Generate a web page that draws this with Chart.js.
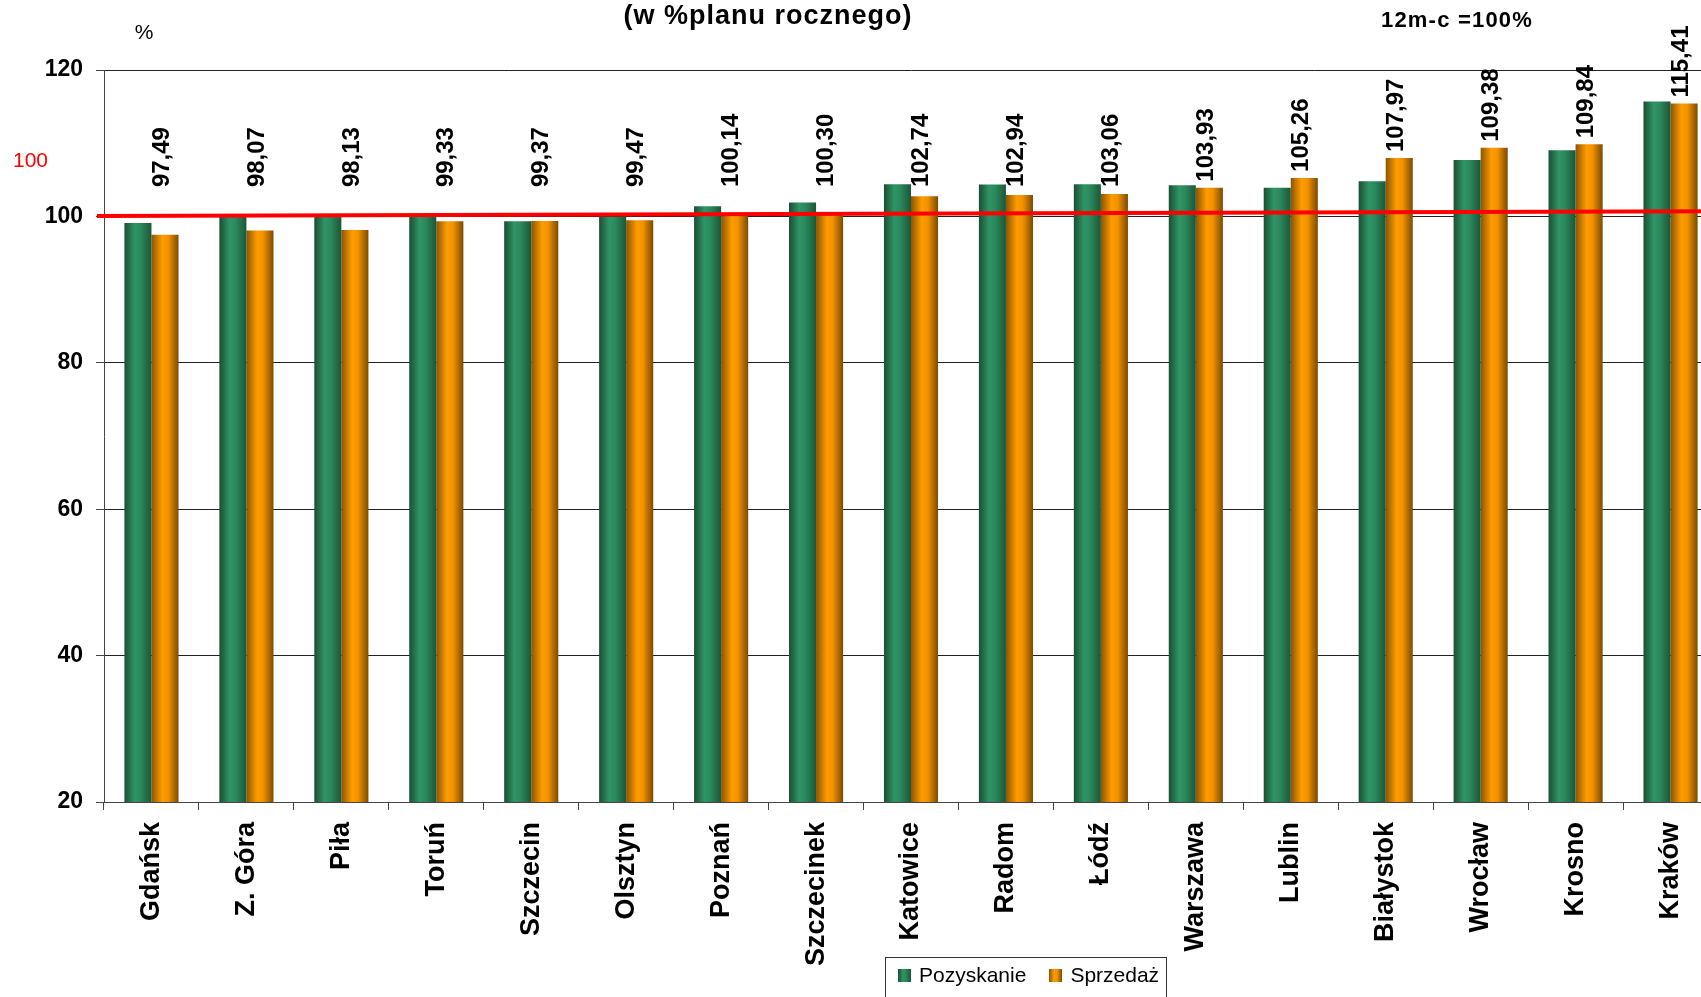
<!DOCTYPE html>
<html>
<head>
<meta charset="utf-8">
<script src="https://cdn.jsdelivr.net/npm/chart.js@4.4.1/dist/chart.umd.min.js"></script>
<style>
  html, body { margin: 0; padding: 0; background: #fff; overflow: hidden; }
  #wrap { position: relative; width: 1701px; height: 997px; overflow: hidden; }
  #chart { display: block; }
  #legend {
    position: absolute; left: 885px; top: 957px; width: 282px; height: 50px;
    box-sizing: border-box; border: 1px solid #333; padding-left: 12px;
    display: flex; align-items: flex-start;
    font: 21px "Liberation Sans", Arial, sans-serif; color: #000; white-space: nowrap;
  }
  #legend .item { display: flex; align-items: center; height: 34px; margin-right: 23px; }
  #legend i { display: inline-block; width: 13px; height: 13px; margin-right: 8px; }
</style>
</head>
<body>
<div id="wrap">
  <!-- the plot runs a little past the right edge of the picture, as in the original -->
  <canvas id="chart" width="1718" height="997"></canvas>
  <div id="legend"></div>
</div>
<script>
// -------------------------------
// DATA
// -------------------------------
const categories = ["Gdańsk", "Z. Góra", "Piła", "Toruń", "Szczecin", "Olsztyn", "Poznań", "Szczecinek",
    "Katowice", "Radom", "Łódź", "Warszawa", "Lublin", "Białystok", "Wrocław", "Krosno", "Kraków"];
const pozyskanie = [99.1, 100.0, 100.0, 100.05, 99.35, 99.95, 101.4, 101.9,
    104.4, 104.35, 104.4, 104.25, 103.9, 104.8, 107.7, 109.05, 115.7];
const sprzedaz = [97.49, 98.07, 98.13, 99.33, 99.37, 99.47, 100.14, 100.30,
    102.74, 102.94, 103.06, 103.93, 105.26, 107.97, 109.38, 109.84, 115.41];
const seriesNames = ["Pozyskanie", "Sprzedaż"];
const yTicks = [20, 40, 60, 80, 100, 120];
const redLine = [100.05, 100.7];   // plan line, left end / right end

const titleText = "(w %planu rocznego)";
const noteText = "12m-c =100%";
const unitText = "%";
const redLabel = "100";

// -------------------------------
// STYLES
// -------------------------------
const FONT = '"Liberation Sans", Arial, sans-serif';
const greenStops = [[0, "#1b4e33"], [0.38, "#2f9566"], [0.6, "#2b895c"], [1, "#1c5638"]];
const orangeStops = [[0, "#8a5600"], [0.4, "#ff9c00"], [0.62, "#f29200"], [1, "#7a4b00"]];

const fmt = v => v.toFixed(2).replace(".", ",");

// -------------------------------
// PLUGINS
// -------------------------------
const barGradients = {
    id: "barGradients",
    beforeDatasetsDraw(chart) {
        const c = chart.ctx;
        chart.data.datasets.forEach((ds, i) => {
            chart.getDatasetMeta(i).data.forEach(bar => {
                const g = c.createLinearGradient(bar.x - bar.width / 2, 0, bar.x + bar.width / 2, 0);
                ds.stops.forEach(s => g.addColorStop(s[0], s[1]));
                bar.options.backgroundColor = g;
            });
        });
    }
};

const planLine = {
    id: "planLine",
    afterDatasetsDraw(chart) {
        const c = chart.ctx;
        const y = chart.scales.y;
        const area = chart.chartArea;
        c.save();
        c.strokeStyle = "#ff0000";
        c.lineWidth = 4;
        c.beginPath();
        c.moveTo(area.left - 7, y.getPixelForValue(redLine[0]));
        c.lineTo(chart.width, y.getPixelForValue(redLine[1]));
        c.stroke();

        // value labels over the Sprzedaż bars
        c.fillStyle = "#000";
        c.font = "bold 24px " + FONT;
        c.textAlign = "left";
        c.textBaseline = "middle";
        const cap = y.getPixelForValue(104);
        chart.getDatasetMeta(1).data.forEach((bar, i) => {
            const base = Math.min(bar.y - 6, cap);
            c.save();
            c.translate(bar.x - 3, base);
            c.rotate(-Math.PI / 2);
            c.fillText(fmt(sprzedaz[i]), 0, 0);
            c.restore();
        });
        c.restore();
    }
};

const notes = {
    id: "notes",
    afterDraw(chart) {
        const c = chart.ctx;
        c.save();
        c.fillStyle = "#000";
        c.textBaseline = "middle";
        c.textAlign = "center";
        c.font = "bold 27px " + FONT;
        c.letterSpacing = "1px";
        c.fillText(titleText, 768, 16.5);
        c.font = "bold 22px " + FONT;
        c.letterSpacing = "1.2px";
        c.fillText(noteText, 1457, 21);
        c.letterSpacing = "0px";
        c.font = "21px " + FONT;
        c.fillText(unitText, 144, 33);
        c.fillStyle = "#ff0000";
        c.textAlign = "left";
        c.fillText(redLabel, 13, 161);
        c.restore();
    }
};

// -------------------------------
// CHART
// -------------------------------
const ctx = document.getElementById("chart");

const chart = new Chart(ctx, {
    type: "bar",
    data: {
        labels: categories,
        datasets: [
            { label: seriesNames[0], data: pozyskanie, stops: greenStops, backgroundColor: () => greenStops[1][1] },
            { label: seriesNames[1], data: sprzedaz, stops: orangeStops, backgroundColor: () => orangeStops[1][1] }
        ]
    },
    options: {
        responsive: false,
        devicePixelRatio: 1,
        animation: false,
        events: [],
        categoryPercentage: 0.57,
        barPercentage: 1.0,
        layout: { padding: { top: 70, left: 0, right: 0, bottom: 0 } },
        plugins: {
            legend: { display: false },
            tooltip: { enabled: false },
            title: { display: false }
        },
        scales: {
            x: {
                grid: { display: true, drawOnChartArea: false, offset: true, tickLength: 8, color: "#444" },
                border: { display: true, color: "#444", width: 1 },
                ticks: {
                    autoSkip: false, minRotation: 90, maxRotation: 90, padding: 12,
                    color: "#000", font: { family: FONT, size: 27, weight: "bold" }
                },
                afterFit(scale) { scale.height = 195; }
            },
            y: {
                min: yTicks[0],
                max: yTicks[yTicks.length - 1],
                afterBuildTicks(scale) { scale.ticks = yTicks.map(v => ({ value: v })); },
                grid: { color: "#222", lineWidth: 1, tickLength: 8, tickColor: "#444" },
                border: { display: true, color: "#444", width: 1 },
                ticks: {
                    padding: 13, color: "#000",
                    font: { family: FONT, size: 23, weight: "bold" }
                },
                afterFit(scale) { scale.width = 104; }
            }
        }
    },
    plugins: [barGradients, planLine, notes]
});

// -------------------------------
// LEGEND (html, under the axis)
// -------------------------------
function cssGradient(stops) {
    return "linear-gradient(to right, " + stops.map(s => `${s[1]} ${s[0] * 100}%`).join(", ") + ")";
}

document.getElementById("legend").innerHTML = chart.data.datasets.map(ds =>
    `<span class="item"><i style="background:${cssGradient(ds.stops)}"></i>${ds.label}</span>`
).join("");
</script>
</body>
</html>
